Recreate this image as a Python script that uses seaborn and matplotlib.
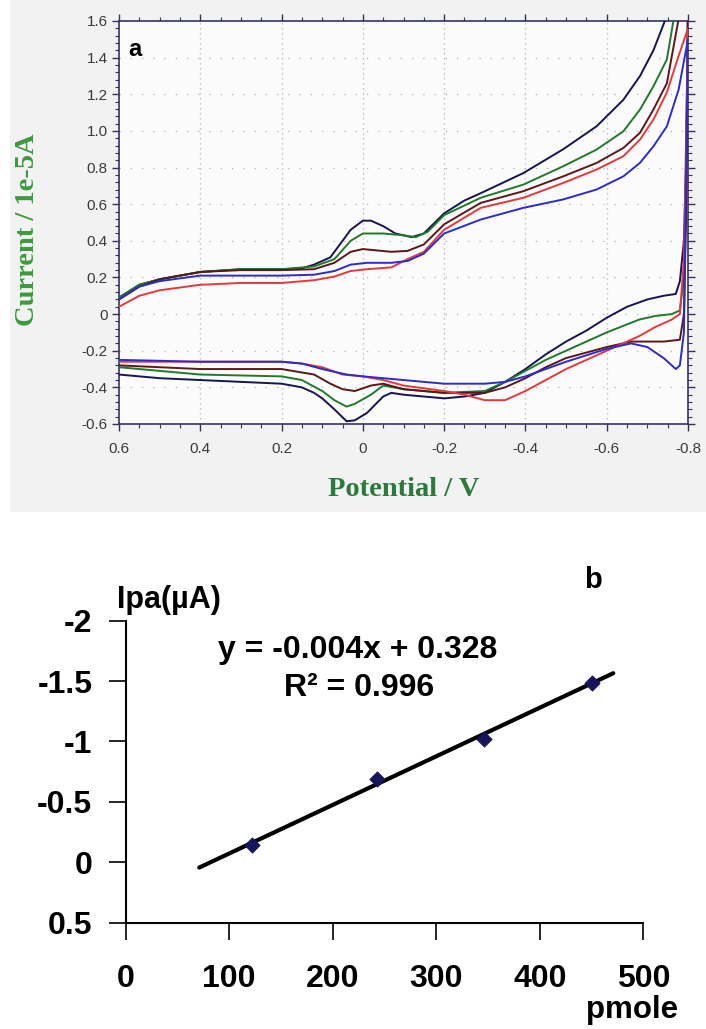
import numpy as np
import pandas as pd
import matplotlib
matplotlib.use("Agg")
import matplotlib.pyplot as plt
import seaborn as sns
from matplotlib.ticker import MultipleLocator, FixedLocator, FixedFormatter
from matplotlib.patches import Rectangle

# ---------------- Panel a data (cyclic voltammograms) ----------------
scan_names = ["navy", "green", "brown", "red", "blue"]
scan_colors = ["#15154f", "#1f7a2c", "#5c1818", "#e4393b", "#2b2bd0"]

navy_up_v = [0.6, 0.55, 0.5, 0.45, 0.4, 0.3, 0.2, 0.15, 0.12, 0.08, 0.05, 0.03, 0.0, -0.02, -0.05, -0.08, -0.12, -0.15, -0.2, -0.25, -0.29, -0.395, -0.493, -0.575, -0.641, -0.682, -0.715, -0.743, -0.76]
navy_up_i = [0.09, 0.16, 0.19, 0.21, 0.23, 0.245, 0.245, 0.25, 0.27, 0.31, 0.40, 0.46, 0.51, 0.51, 0.48, 0.44, 0.42, 0.44, 0.55, 0.62, 0.66, 0.77, 0.90, 1.025, 1.17, 1.30, 1.44, 1.60, 1.70]
navy_dn_v = [-0.8, -0.795, -0.79, -0.78, -0.77, -0.74, -0.70, -0.65, -0.60, -0.55, -0.50, -0.45, -0.40, -0.35, -0.30, -0.25, -0.20, -0.10, -0.07, -0.05, -0.01, 0.02, 0.04, 0.07, 0.10, 0.12, 0.15, 0.20, 0.30, 0.40, 0.50, 0.60]
navy_dn_i = [1.7, 0.8, 0.4, 0.18, 0.11, 0.10, 0.08, 0.04, -0.02, -0.09, -0.15, -0.22, -0.30, -0.37, -0.43, -0.45, -0.46, -0.44, -0.43, -0.45, -0.54, -0.58, -0.585, -0.52, -0.46, -0.43, -0.40, -0.38, -0.37, -0.36, -0.35, -0.33]

green_up_v = [0.6, 0.55, 0.5, 0.4, 0.3, 0.2, 0.12, 0.07, 0.03, 0.0, -0.05, -0.1, -0.13, -0.16, -0.2, -0.29, -0.395, -0.493, -0.575, -0.641, -0.682, -0.715, -0.748, -0.764, -0.78]
green_up_i = [0.09, 0.16, 0.19, 0.23, 0.245, 0.245, 0.26, 0.30, 0.40, 0.44, 0.44, 0.43, 0.42, 0.45, 0.54, 0.635, 0.707, 0.807, 0.898, 0.998, 1.117, 1.244, 1.39, 1.60, 1.75]
green_dn_v = [-0.8, -0.795, -0.79, -0.78, -0.76, -0.72, -0.68, -0.60, -0.50, -0.45, -0.40, -0.35, -0.30, -0.20, -0.10, -0.05, -0.02, 0.02, 0.04, 0.07, 0.10, 0.15, 0.20, 0.40, 0.60]
green_dn_i = [1.7, 0.6, 0.2, 0.02, 0.0, -0.01, -0.03, -0.10, -0.20, -0.25, -0.31, -0.37, -0.42, -0.43, -0.41, -0.39, -0.44, -0.49, -0.505, -0.47, -0.42, -0.36, -0.34, -0.33, -0.29]

brown_up_v = [0.6, 0.55, 0.5, 0.4, 0.3, 0.2, 0.12, 0.07, 0.03, 0.0, -0.07, -0.11, -0.15, -0.2, -0.29, -0.395, -0.493, -0.575, -0.641, -0.682, -0.715, -0.748, -0.776, -0.79]
brown_up_i = [0.08, 0.15, 0.19, 0.23, 0.24, 0.24, 0.245, 0.28, 0.34, 0.355, 0.34, 0.345, 0.38, 0.49, 0.607, 0.671, 0.752, 0.825, 0.907, 0.99, 1.117, 1.26, 1.60, 1.75]
brown_dn_v = [-0.8, -0.795, -0.79, -0.78, -0.74, -0.70, -0.66, -0.60, -0.50, -0.45, -0.40, -0.35, -0.30, -0.20, -0.10, -0.05, -0.02, 0.02, 0.05, 0.08, 0.12, 0.20, 0.40, 0.60]
brown_dn_i = [1.7, 0.5, 0.0, -0.14, -0.15, -0.15, -0.15, -0.18, -0.24, -0.29, -0.35, -0.40, -0.43, -0.43, -0.41, -0.38, -0.39, -0.42, -0.41, -0.38, -0.33, -0.30, -0.30, -0.28]

red_up_v = [0.6, 0.55, 0.5, 0.4, 0.3, 0.2, 0.12, 0.07, 0.03, -0.01, -0.07, -0.11, -0.15, -0.2, -0.29, -0.395, -0.493, -0.575, -0.641, -0.682, -0.715, -0.748, -0.777, -0.8]
red_up_i = [0.04, 0.10, 0.13, 0.16, 0.17, 0.17, 0.185, 0.205, 0.235, 0.245, 0.255, 0.30, 0.34, 0.46, 0.58, 0.635, 0.716, 0.789, 0.862, 0.953, 1.062, 1.21, 1.41, 1.56]
red_dn_v = [-0.8, -0.79, -0.78, -0.76, -0.72, -0.68, -0.60, -0.50, -0.45, -0.40, -0.35, -0.30, -0.25, -0.20, -0.10, -0.05, 0.0, 0.05, 0.10, 0.15, 0.20, 0.40, 0.60]
red_dn_i = [1.56, 0.3, 0.0, -0.03, -0.07, -0.12, -0.20, -0.30, -0.36, -0.42, -0.47, -0.47, -0.44, -0.42, -0.39, -0.36, -0.34, -0.33, -0.29, -0.27, -0.26, -0.26, -0.26]

blue_up_v = [0.6, 0.55, 0.5, 0.4, 0.3, 0.2, 0.12, 0.07, 0.03, -0.01, -0.07, -0.11, -0.15, -0.2, -0.29, -0.395, -0.493, -0.575, -0.641, -0.682, -0.715, -0.748, -0.777, -0.8]
blue_up_i = [0.08, 0.15, 0.18, 0.21, 0.21, 0.21, 0.215, 0.235, 0.27, 0.28, 0.28, 0.29, 0.33, 0.44, 0.516, 0.58, 0.626, 0.68, 0.752, 0.826, 0.916, 1.025, 1.226, 1.50]
blue_dn_v = [-0.8, -0.79, -0.78, -0.77, -0.74, -0.70, -0.66, -0.60, -0.50, -0.45, -0.40, -0.35, -0.30, -0.20, -0.10, -0.05, 0.0, 0.04, 0.10, 0.15, 0.20, 0.40, 0.60]
blue_dn_i = [1.50, -0.1, -0.28, -0.30, -0.24, -0.18, -0.16, -0.19, -0.26, -0.30, -0.34, -0.37, -0.38, -0.38, -0.36, -0.35, -0.34, -0.33, -0.30, -0.27, -0.26, -0.26, -0.25]

a_xticks = [0.6, 0.4, 0.2, 0.0, -0.2, -0.4, -0.6, -0.8]
a_xticklabels = ["0.6", "0.4", "0.2", "0", "-0.2", "-0.4", "-0.6", "-0.8"]
a_yticks = [1.6, 1.4, 1.2, 1.0, 0.8, 0.6, 0.4, 0.2, 0.0, -0.2, -0.4, -0.6]
a_yticklabels = ["1.6", "1.4", "1.2", "1.0", "0.8", "0.6", "0.4", "0.2", "0", "-0.2", "-0.4", "-0.6"]

# ---------------- Panel b data (calibration) ----------------
amount_pmole = [122, 243, 346, 450]
ipa_uA = [-0.14, -0.69, -1.02, -1.48]
trend_x = [71, 471]
trend_y = [0.045, -1.565]
b_xticks = [0, 100, 200, 300, 400, 500]
b_xticklabels = ["0", "100", "200", "300", "400", "500"]
b_yticks = [-2, -1.5, -1, -0.5, 0, 0.5]
b_yticklabels = ["-2", "-1.5", "-1", "-0.5", "0", "0.5"]

# ---------------- Build long data ----------------
branches = {
    "navy": [(navy_up_v, navy_up_i), (navy_dn_v, navy_dn_i)],
    "green": [(green_up_v, green_up_i), (green_dn_v, green_dn_i)],
    "brown": [(brown_up_v, brown_up_i), (brown_dn_v, brown_dn_i)],
    "red": [(red_up_v, red_up_i), (red_dn_v, red_dn_i)],
    "blue": [(blue_up_v, blue_up_i), (blue_dn_v, blue_dn_i)],
}
rows = []
for name in scan_names:
    v = list(branches[name][0][0]) + list(branches[name][1][0])
    i = list(branches[name][0][1]) + list(branches[name][1][1])
    for k, (vv, ii) in enumerate(zip(v, i)):
        rows.append({"V": vv, "I": ii, "scan": name, "order": k})
cv = pd.DataFrame(rows)

sns.set_theme(style="white")
plt.rcParams["font.family"] = ["Liberation Sans", "DejaVu Sans"]
plt.rcParams["text.color"] = "black"

W, H = 706, 1029
fig = plt.figure(figsize=(W / 100, H / 100), dpi=100)
fig.patch.set_facecolor("white")

def fx(px):
    return px / W

def fy(py):
    return 1 - py / H

# gray panel background for a
fig.patches.append(Rectangle((fx(10), fy(512)), fx(696), 512 / H, transform=fig.transFigure,
                             facecolor="#f2f2f2", edgecolor="none", zorder=-5))

# ---------------- Panel a ----------------
axa = fig.add_axes([fx(119), fy(424), fx(688 - 119), (424 - 21) / H])
axa.set_zorder(2)
axa.set_facecolor("#fbfbfb")
palette = dict(zip(scan_names, scan_colors))
for name in scan_names:
    sub = cv[cv.scan == name]
    sns.lineplot(data=sub, x="V", y="I", color=palette[name], sort=False,
                 estimator=None, lw=1.4, ax=axa, legend=False, zorder=3)
axa.set_xlim(0.6, -0.8)
axa.set_ylim(-0.6, 1.6)
axa.xaxis.set_major_locator(FixedLocator(a_xticks))
axa.xaxis.set_major_formatter(FixedFormatter(a_xticklabels))
axa.yaxis.set_major_locator(FixedLocator(a_yticks))
axa.yaxis.set_major_formatter(FixedFormatter(a_yticklabels))
axa.xaxis.set_minor_locator(MultipleLocator(0.05))
axa.yaxis.set_minor_locator(MultipleLocator(0.04))
axa.tick_params(which="both", direction="out", top=True, right=True, bottom=True, left=True,
                color="#333355", labelsize=11, labelcolor="#3a3a3a")
axa.tick_params(which="major", length=5, width=1)
axa.tick_params(which="minor", length=3, width=0.8)
axa.tick_params(axis="x", pad=8)
axa.tick_params(axis="y", pad=3)
for s in axa.spines.values():
    s.set_color("#333366")
    s.set_linewidth(1.2)
    s.set_visible(True)
for xv in a_xticks[1:-1]:
    axa.axvline(xv, color="#b0b0b0", lw=0.9, ls=(0, (1, 3)), zorder=1)
for yv in a_yticks[1:-1]:
    axa.axhline(yv, color="#b0b0b0", lw=0.9, ls=(0, (1, 8)), zorder=1)
axa.set_xlabel("")
axa.set_ylabel("")
axa.text(0.017, 0.93, "a", transform=axa.transAxes, fontsize=17, fontweight="bold",
         color="black", ha="left", va="center")
fig.text(fx(28), fy(230), "Current / 1e-5A", rotation=90, ha="center", va="center",
         fontsize=20.5, fontweight="bold", color="#3c9a3c", family=["Liberation Serif", "DejaVu Serif"])
fig.text(fx(404), fy(490), "Potential / V", ha="center", va="center",
         fontsize=20.5, fontweight="bold", color="#2a7a3a", family=["Liberation Serif", "DejaVu Serif"])

# ---------------- Panel b ----------------
axb = fig.add_axes([fx(125.7), fy(922.5), fx(643.3 - 125.7), (922.5 - 620.7) / H])
axb.set_facecolor("white")
calib = pd.DataFrame({"pmole": amount_pmole, "ipa": ipa_uA})
trend = pd.DataFrame({"pmole": trend_x, "ipa": trend_y})
sns.lineplot(data=trend, x="pmole", y="ipa", color="black", lw=3, ax=axb, zorder=2)
sns.scatterplot(data=calib, x="pmole", y="ipa", marker="D", s=60, color="#15155a",
                edgecolor="#15155a", ax=axb, zorder=3)
axb.set_xlim(0, 500)
axb.set_ylim(0.5, -2)
axb.xaxis.set_major_locator(FixedLocator(b_xticks))
axb.xaxis.set_major_formatter(FixedFormatter(b_xticklabels))
axb.yaxis.set_major_locator(FixedLocator(b_yticks))
axb.yaxis.set_major_formatter(FixedFormatter(b_yticklabels))
axb.tick_params(direction="out", length=12, width=1.2, color="black", labelsize=23,
                labelcolor="black", bottom=True, left=True)
axb.tick_params(axis="x", pad=18)
axb.tick_params(axis="y", pad=12)
for lab in axb.get_xticklabels() + axb.get_yticklabels():
    lab.set_fontweight("bold")
for side in ["top", "right"]:
    axb.spines[side].set_visible(False)
for side in ["left", "bottom"]:
    axb.spines[side].set_color("black")
    axb.spines[side].set_linewidth(1.5)
axb.set_xlabel("")
axb.set_ylabel("")
fig.text(fx(169), fy(600), "Ipa(\u00b5A)", ha="center", va="center", fontsize=22, fontweight="bold", color="black")
fig.text(fx(593), fy(580), "b", ha="center", va="center", fontsize=21, fontweight="bold", color="black")
fig.text(fx(358), fy(650), "y = -0.004x + 0.328", ha="center", va="center", fontsize=23, fontweight="bold", color="black")
fig.text(fx(359), fy(688), "R\u00b2 = 0.996", ha="center", va="center", fontsize=23, fontweight="bold", color="black")
fig.text(fx(632), fy(1010), "pmole", ha="center", va="center", fontsize=22.5, fontweight="bold", color="black")

fig.savefig("out.png", dpi=100)
